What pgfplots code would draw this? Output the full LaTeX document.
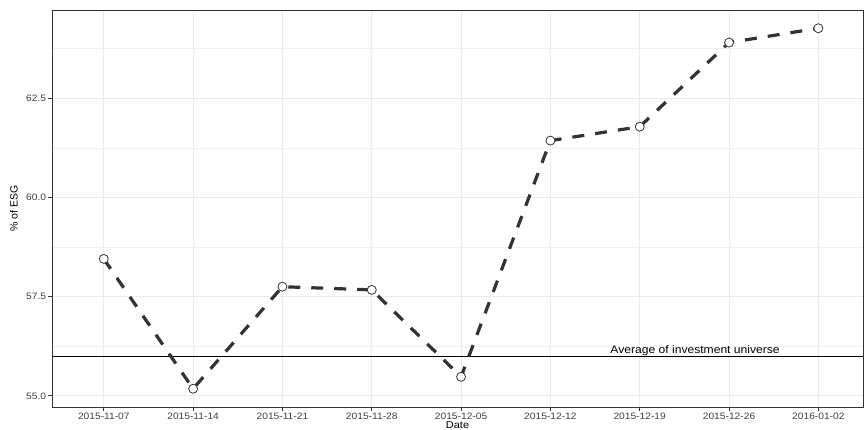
\documentclass[border=0pt]{standalone}
\usepackage{fontspec}
\setmainfont{Liberation Sans}
\newfontfamily\wfont[FakeStretch=1.1]{Liberation Sans}
\usepackage{pgfplots}
\pgfplotsset{compat=1.18}
\begin{document}
\begin{tikzpicture}[x=1pt,y=1pt]
\useasboundingbox (0,0) rectangle (864,430);
\begin{axis}[
 at={(52pt,23pt)}, anchor=south west,
 width=811pt, height=397pt, scale only axis,
 xmin=-0.58, xmax=8.5, ymin=54.72, ymax=64.72,
 xtick={0,...,8},
 xticklabels={2015-11-07,2015-11-14,2015-11-21,2015-11-28,2015-12-05,2015-12-12,2015-12-19,2015-12-26,2016-01-02},
 ytick={55,57.5,60,62.5}, yticklabels={55.0,57.5,60.0,62.5},
 minor ytick={56.25,58.75,61.25,63.75},
 grid=both,
 major grid style={color=black!8, line width=0.9pt},
 minor grid style={color=black!6, line width=0.5pt},
 axis line style={black!80, line width=0.9pt},
 tick style={black!80, line width=0.9pt},
 tick align=outside, major tick length=4.5pt, minor tick length=0pt,
 xtick pos=bottom, ytick pos=left,
 tick label style={font=\wfont\fontsize{9.3}{10}\selectfont, text=black!75, inner sep=1.2pt},
 xlabel={Date}, ylabel={\% of ESG},
 xlabel style={font=\wfont\fontsize{10}{12}\selectfont, at={(axis description cs:0.5,-0.037)}, anchor=north, inner sep=0pt},
 ylabel style={font=\fontsize{10.5}{12}\selectfont, at={(axis description cs:-0.0469,0.5)}, anchor=center},
]
\addplot[black, line width=0.9pt] coordinates {(-0.58,56.0) (8.5,56.0)};
\addplot[color=black!80, line width=3.2pt, dash pattern=on 12pt off 11pt,
  mark=*, mark size=4.5pt, mark options={solid, fill=white, draw=black!80, line width=0.8pt}]
 coordinates {
 (0,58.45) (1,55.18) (2,57.75) (3,57.67) (4,55.48) (5,61.43) (6,61.78) (7,63.90) (8,64.26)
 };
\node[font=\wfont\fontsize{11}{12}\selectfont, anchor=base] at (axis cs:6.62,56.08) {Average of investment universe};
\end{axis}
\end{tikzpicture}
\end{document}
